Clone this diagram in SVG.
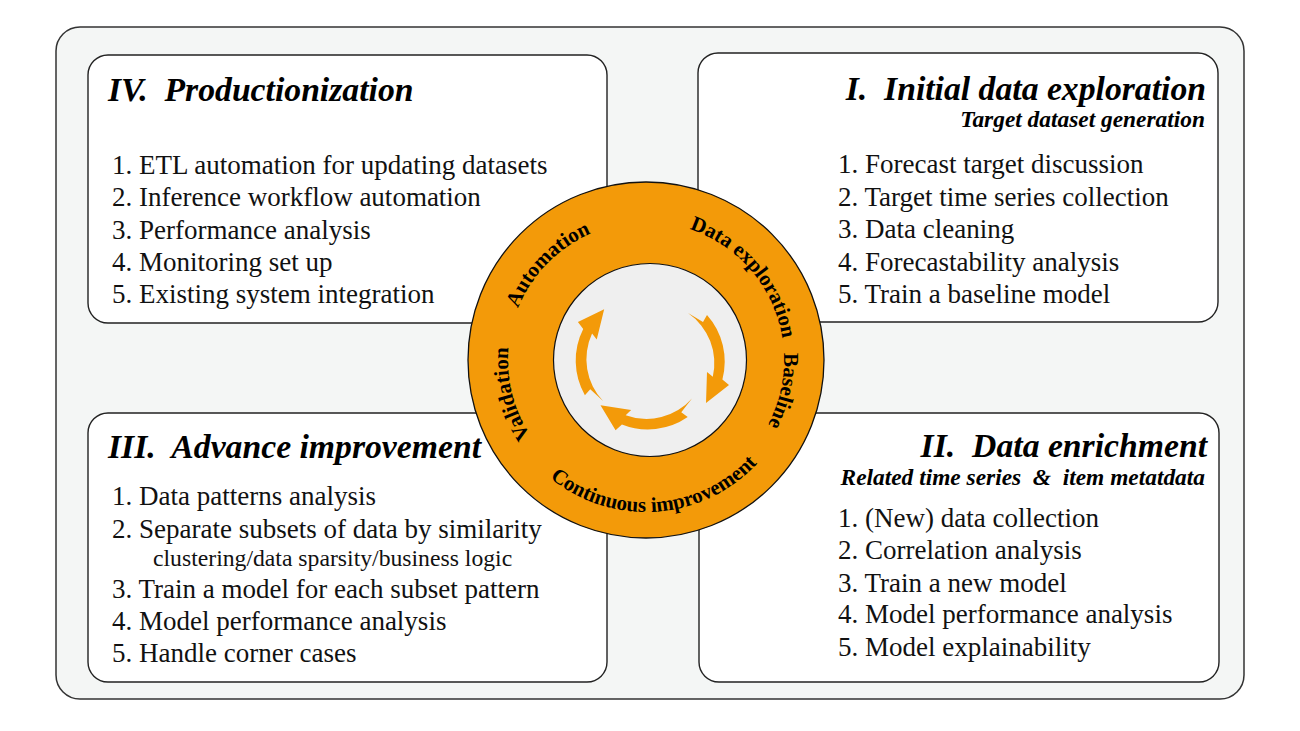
<svg xmlns="http://www.w3.org/2000/svg" xmlns:xlink="http://www.w3.org/1999/xlink" width="1300" height="731" viewBox="0 0 1300 731">
<style>
.box{fill:#ffffff;stroke:#222;stroke-width:1.4}
.ttl{font-family:"Liberation Serif","Times New Roman",serif;font-weight:bold;font-style:italic;font-size:33.7px;fill:#000}
.sub{font-family:"Liberation Serif","Times New Roman",serif;font-weight:bold;font-style:italic;font-size:23.4px;fill:#000}
.it{font-family:"Liberation Serif","Times New Roman",serif;font-size:27px;fill:#111}
.small{font-family:"Liberation Serif","Times New Roman",serif;font-size:23.7px;fill:#111}
.ring{font-family:"Liberation Serif","Times New Roman",serif;font-weight:bold;font-size:21px;fill:#000}
.arr{fill:#f39a09}
</style>
<defs>
<path id="cw" d="M 646,498 A 138 138 0 1 1 646,222 A 138 138 0 1 1 646,498"/>
<path id="ccw" d="M 646,208 A 152 152 0 1 0 646,512 A 152 152 0 1 0 646,208"/>
<path id="arrow" d="M 688,313 L 703,322 L 707,315 A 70 70 0 0 1 722.4,379.4 L 729,385 L 706,403 L 707,372 L 712.8,376.8 A 61 61 0 0 0 688,313 Z"/>
</defs>
<rect x="56" y="27" width="1188" height="672" rx="24" fill="#f4f6f5" stroke="#333" stroke-width="1.5"/>

<g id="box-iv">
<rect class="box" x="88" y="55" width="519" height="268" rx="20"/>
<text class="ttl" x="108" y="101" xml:space="preserve">IV.  Productionization</text>
<text class="it" x="112" y="174">1. ETL automation for updating datasets</text>
<text class="it" x="112" y="206">2. Inference workflow automation</text>
<text class="it" x="112" y="238.5">3. Performance analysis</text>
<text class="it" x="112" y="271">4. Monitoring set up</text>
<text class="it" x="112" y="303">5. Existing system integration</text>
</g>

<g id="box-i">
<rect class="box" x="698" y="53" width="520" height="269" rx="20"/>
<text class="ttl" x="1206" y="100" text-anchor="end" xml:space="preserve">I.  Initial data exploration</text>
<text class="sub" x="1205" y="127" text-anchor="end">Target dataset generation</text>
<text class="it" x="838" y="173">1. Forecast target discussion</text>
<text class="it" x="838" y="206">2. Target time series collection</text>
<text class="it" x="838" y="238">3. Data cleaning</text>
<text class="it" x="838" y="271">4. Forecastability analysis</text>
<text class="it" x="838" y="303">5. Train a baseline model</text>
</g>

<g id="box-iii">
<rect class="box" x="88" y="413" width="519" height="269" rx="20"/>
<text class="ttl" x="108" y="458" xml:space="preserve">III.  Advance improvement</text>
<text class="it" x="112" y="505">1. Data patterns analysis</text>
<text class="it" x="112" y="538">2. Separate subsets of data by similarity</text>
<text class="small" x="153" y="566">clustering/data sparsity/business logic</text>
<text class="it" x="112" y="598">3. Train a model for each subset pattern</text>
<text class="it" x="112" y="630">4. Model performance analysis</text>
<text class="it" x="112" y="662">5. Handle corner cases</text>
</g>

<g id="box-ii">
<rect class="box" x="699" y="413" width="520" height="269" rx="20"/>
<text class="ttl" x="1207" y="457" text-anchor="end" xml:space="preserve">II.  Data enrichment</text>
<text class="sub" x="1205" y="485" text-anchor="end" xml:space="preserve">Related time series  &amp;  item metatdata</text>
<text class="it" x="838" y="527">1. (New) data collection</text>
<text class="it" x="838" y="559">2. Correlation analysis</text>
<text class="it" x="838" y="592">3. Train a new model</text>
<text class="it" x="838" y="623">4. Model performance analysis</text>
<text class="it" x="838" y="656">5. Model explainability</text>
</g>

<g id="cycle">
<circle cx="646" cy="360" r="178" fill="#f39a09" stroke="#111" stroke-width="1.3"/>
<circle cx="650" cy="360" r="96.5" fill="#efefef" stroke="#111" stroke-width="1.2"/>
<text class="ring"><textPath href="#cw" startOffset="63.8%" text-anchor="middle">Data exploration</textPath></text>
<text class="ring"><textPath href="#cw" startOffset="78.5%" text-anchor="middle">Baseline</textPath></text>
<text class="ring"><textPath href="#cw" startOffset="21.1%" text-anchor="middle">Validation</textPath></text>
<text class="ring"><textPath href="#cw" startOffset="37.3%" text-anchor="middle">Automation</textPath></text>
<text class="ring"><textPath href="#ccw" startOffset="51.1%" text-anchor="middle">Continuous improvement</textPath></text>
</g>

<g id="connectors">
<use href="#arrow" class="arr"/>
<use href="#arrow" class="arr" transform="translate(0,-5) rotate(97 650 360)"/>
<use href="#arrow" class="arr" transform="translate(0,3) rotate(192 650 360)"/>
</g>
</svg>
